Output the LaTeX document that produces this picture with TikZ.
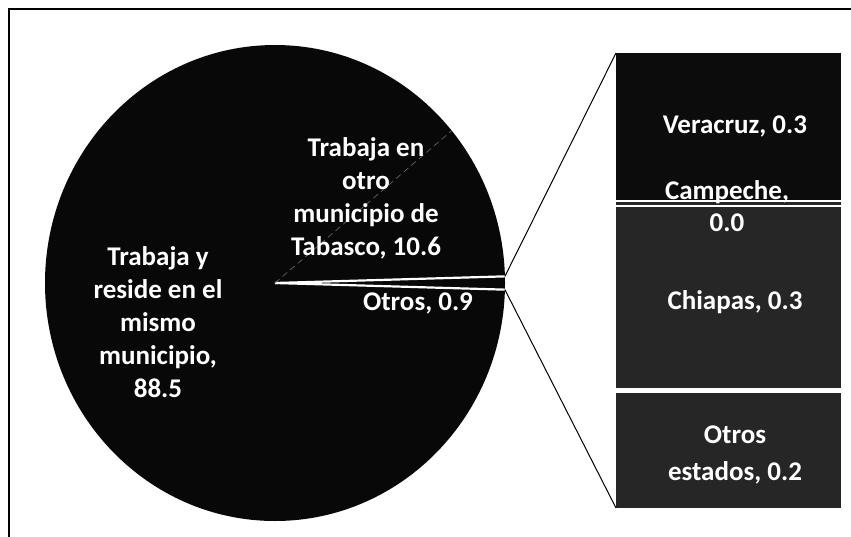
\documentclass[tikz,border=0pt]{standalone}
\usepackage{fontspec}
\setmainfont{Carlito}
\usepackage{xcolor}
\usepackage{tikz}
\usetikzlibrary{positioning, calc}
\definecolor{pieblack}{RGB}{8,8,8}
\definecolor{bardark}{RGB}{12,12,12}
\definecolor{bargray}{RGB}{38,38,38}
\definecolor{faintline}{RGB}{110,110,110}

\begin{document}
\begin{tikzpicture}[
    x=1pt, y=-1pt,
    lbl/.style={text=white, font=\fontsize{27}{33}\selectfont\bfseries, align=center, inner sep=0pt},
    seg/.style={draw=white, line width=2.4pt},
    sep/.style={white, line width=2.2pt},
    link/.style={black, line width=1pt}
]
    \useasboundingbox (0,0) rectangle (851,536);

    % Frame (only top and left edges inside the page)
    \draw[line width=1.1pt] (9,560) -- (9,9) -- (870,9);

    % Pie
    \coordinate (c) at (275,283);
    \fill[pieblack] (c) ellipse [x radius=230, y radius=238];
    \coordinate (otrosA) at ($(c)+({230*cos(-1.6)},{238*sin(-1.6)})$);
    \coordinate (otrosB) at ($(c)+({230*cos(1.6)},{238*sin(1.6)})$);
    \coordinate (tabA) at ($(c)+({230*cos(-39.8)},{238*sin(-39.8)})$);
    \draw[sep] (c) -- (otrosA);
    \draw[sep] (c) -- (otrosB);
    \draw[faintline, line width=0.6pt, dash pattern=on 6pt off 4pt] (c) -- (tabA);

    \node[lbl] (mismo) at (158,322) {Trabaja y\\reside en el\\mismo\\municipio,\\88.5};
    \node[lbl] (tabasco) at (366,198) {Trabaja en\\otro\\municipio de\\Tabasco, 10.6};
    \node[lbl] (otros) at (418,303) {Otros, 0.9};

    % Bar of "Otros"
    \fill[bardark] (616,53) rectangle (841,201);
    \fill[bargray] (616,201) rectangle (841,206);
    \fill[bargray] (616,206) rectangle (841,389);
    \fill[bargray] (616,389) rectangle (841,508);
    \draw[seg] (616,201) -- (841,201);
    \draw[seg] (616,206) -- (841,206);
    \draw[white, line width=5pt] (616,390) -- (841,390);
    \coordinate (barTop) at (616,53);
    \coordinate (barBot) at (616,508);

    \node[lbl] (veracruz) at (735,126) {Veracruz, 0.3};
    \node[lbl, font=\fontsize{27}{32}\selectfont\bfseries] (campeche) at (727,206) {Campeche,\\0.0};
    \node[lbl] (chiapas) at (735,302) {Chiapas, 0.3};
    \node[lbl, font=\fontsize{27}{37}\selectfont\bfseries] (otrosest) at (735,455) {Otros\\estados, 0.2};

    % Connectors
    \draw[link] (otrosA) -- (barTop);
    \draw[link] (otrosB) -- (barBot);
\end{tikzpicture}
\end{document}
